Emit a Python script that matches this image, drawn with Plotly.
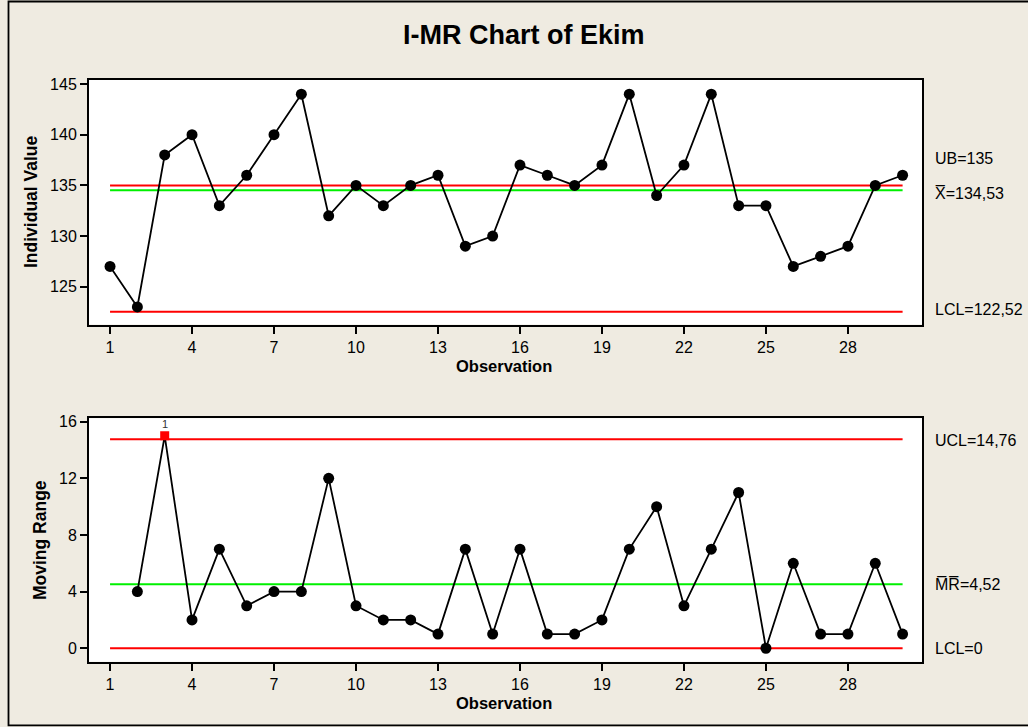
import plotly.graph_objects as go

# ---------------- data ----------------
observations = list(range(1, 31))
individual_values = [127, 123, 138, 140, 133, 136, 140, 144, 132, 135,
                     133, 135, 136, 129, 130, 137, 136, 135, 137, 144,
                     134, 137, 144, 133, 133, 127, 128, 129, 135, 136]
moving_ranges = [None, 4, 15, 2, 7, 3, 4, 4, 12, 3,
                 2, 2, 1, 7, 1, 7, 1, 1, 2, 7,
                 10, 3, 7, 11, 0, 6, 1, 1, 6, 1]

i_ub, i_mean, i_lcl = 135, 134.53, 122.52
mr_ucl, mr_mean, mr_lcl = 14.76, 4.52, 0

i_labels = ["UB=135", "X\u0305=134,53", "LCL=122,52"]
mr_labels = ["UCL=14,76", "M\u0305R\u0305=4,52", "LCL=0"]

x_ticks = [1, 4, 7, 10, 13, 16, 19, 22, 25, 28]
i_ticks = [125, 130, 135, 140, 145]
mr_ticks = [0, 4, 8, 12, 16]

title_text = "I-MR Chart of Ekim"
x_title = "Observation"
i_title = "Individual Value"
mr_title = "Moving Range"

# ---------------- layout helpers ----------------
W, H = 1028, 727
FONT = "Arial, Liberation Sans, sans-serif"
RED = "#FF0000"
GREEN = "#00F000"
BG = "#EFEBE1"


def px_x(p):
    return p / W


def px_y(p):
    return (H - p) / H


x_dom = [px_x(89), px_x(922)]
top_dom = [px_y(324.5), px_y(80)]
bot_dom = [px_y(661.7), px_y(418.3)]
x_first, x_last = observations[0], observations[-1]

fig = go.Figure()

# limit lines (top)
for val, col in [(i_ub, RED), (i_mean, GREEN), (i_lcl, RED)]:
    fig.add_trace(go.Scatter(x=[x_first, x_last], y=[val, val], mode="lines",
                             line=dict(color=col, width=2), xaxis="x", yaxis="y",
                             hoverinfo="skip"))
# individual values
fig.add_trace(go.Scatter(x=observations, y=individual_values, mode="lines+markers",
                         line=dict(color="black", width=1.8),
                         marker=dict(color="black", size=11, symbol="circle", opacity=1),
                         xaxis="x", yaxis="y"))

# limit lines (bottom)
for val, col in [(mr_ucl, RED), (mr_mean, GREEN), (mr_lcl, RED)]:
    fig.add_trace(go.Scatter(x=[x_first, x_last], y=[val, val], mode="lines",
                             line=dict(color=col, width=1.8), xaxis="x2", yaxis="y2",
                             hoverinfo="skip"))

flags = [(v is not None and v > mr_ucl) for v in moving_ranges]
fig.add_trace(go.Scatter(x=observations, y=moving_ranges, mode="lines+markers",
                         line=dict(color="black", width=1.8),
                         marker=dict(color=[RED if f else "black" for f in flags],
                                     size=[9 if f else 11 for f in flags],
                                     symbol=["square" if f else "circle" for f in flags],
                                     opacity=1, line=dict(width=0)),
                         connectgaps=False, xaxis="x2", yaxis="y2"))

axis_common = dict(showgrid=False, zeroline=False, showline=True, linecolor="black",
                   linewidth=2, mirror=True, ticks="outside", ticklen=7, tickwidth=1.5,
                   tickcolor="black", tickfont=dict(family=FONT, size=16, color="black"),
                   automargin=False)

annotations = []
# title
annotations.append(dict(text="<b>%s</b>" % title_text, x=px_x(523.5), y=px_y(35),
                        xref="paper", yref="paper", showarrow=False,
                        font=dict(family=FONT, size=27, color="black"),
                        xanchor="center", yanchor="middle"))
# axis titles
for ypx in (366, 703):
    annotations.append(dict(text="<b>%s</b>" % x_title, x=px_x(504), y=px_y(ypx),
                            xref="paper", yref="paper", showarrow=False,
                            font=dict(family=FONT, size=16.5, color="black"),
                            xanchor="center", yanchor="middle"))
annotations.append(dict(text="<b>%s</b>" % i_title, x=px_x(31), y=px_y(202),
                        xref="paper", yref="paper", showarrow=False, textangle=-90,
                        font=dict(family=FONT, size=17.5, color="black"),
                        xanchor="center", yanchor="middle"))
annotations.append(dict(text="<b>%s</b>" % mr_title, x=px_x(40), y=px_y(540),
                        xref="paper", yref="paper", showarrow=False, textangle=-90,
                        font=dict(family=FONT, size=17.5, color="black"),
                        xanchor="center", yanchor="middle"))
# limit labels
for val, lab, shift in zip([i_ub, i_mean, i_lcl], i_labels, [27, -3, 2]):
    annotations.append(dict(text=lab, x=px_x(933), y=val, xref="paper", yref="y",
                            yshift=shift, showarrow=False, xanchor="left", yanchor="middle",
                            font=dict(family=FONT, size=16, color="black")))
for val, lab, shift in zip([mr_ucl, mr_mean, mr_lcl], mr_labels, [-1, 0, 0]):
    annotations.append(dict(text=lab, x=px_x(933), y=val, xref="paper", yref="y2",
                            yshift=shift, showarrow=False, xanchor="left", yanchor="middle",
                            font=dict(family=FONT, size=16, color="black")))
# out-of-control flag label
for obs, v, f in zip(observations, moving_ranges, flags):
    if f:
        annotations.append(dict(text="1", x=obs, y=v, xref="x2", yref="y2", yshift=12,
                                showarrow=False, xanchor="center", yanchor="middle",
                                font=dict(family=FONT, size=11, color="#333333")))

fig.update_layout(
    width=W, height=H, margin=dict(l=0, r=0, t=0, b=0),
    paper_bgcolor=BG, plot_bgcolor="white", showlegend=False,
    xaxis=dict(domain=x_dom, anchor="y", range=[0.23, 30.71], tickvals=x_ticks, **axis_common),
    yaxis=dict(domain=top_dom, anchor="x", range=[121.27, 145.4], tickvals=i_ticks, **axis_common),
    xaxis2=dict(domain=x_dom, anchor="y2", range=[0.23, 30.71], tickvals=x_ticks, **axis_common),
    yaxis2=dict(domain=bot_dom, anchor="x2", range=[-0.95, 16.24], tickvals=mr_ticks, **axis_common),
    annotations=annotations,
    shapes=[dict(type="rect", xref="paper", yref="paper",
                 x0=px_x(8.5), x1=1.05, y0=px_y(725.3), y1=px_y(1.5),
                 line=dict(color="black", width=1.8), fillcolor="rgba(0,0,0,0)", layer="above")],
)

fig.write_html("out.html")
